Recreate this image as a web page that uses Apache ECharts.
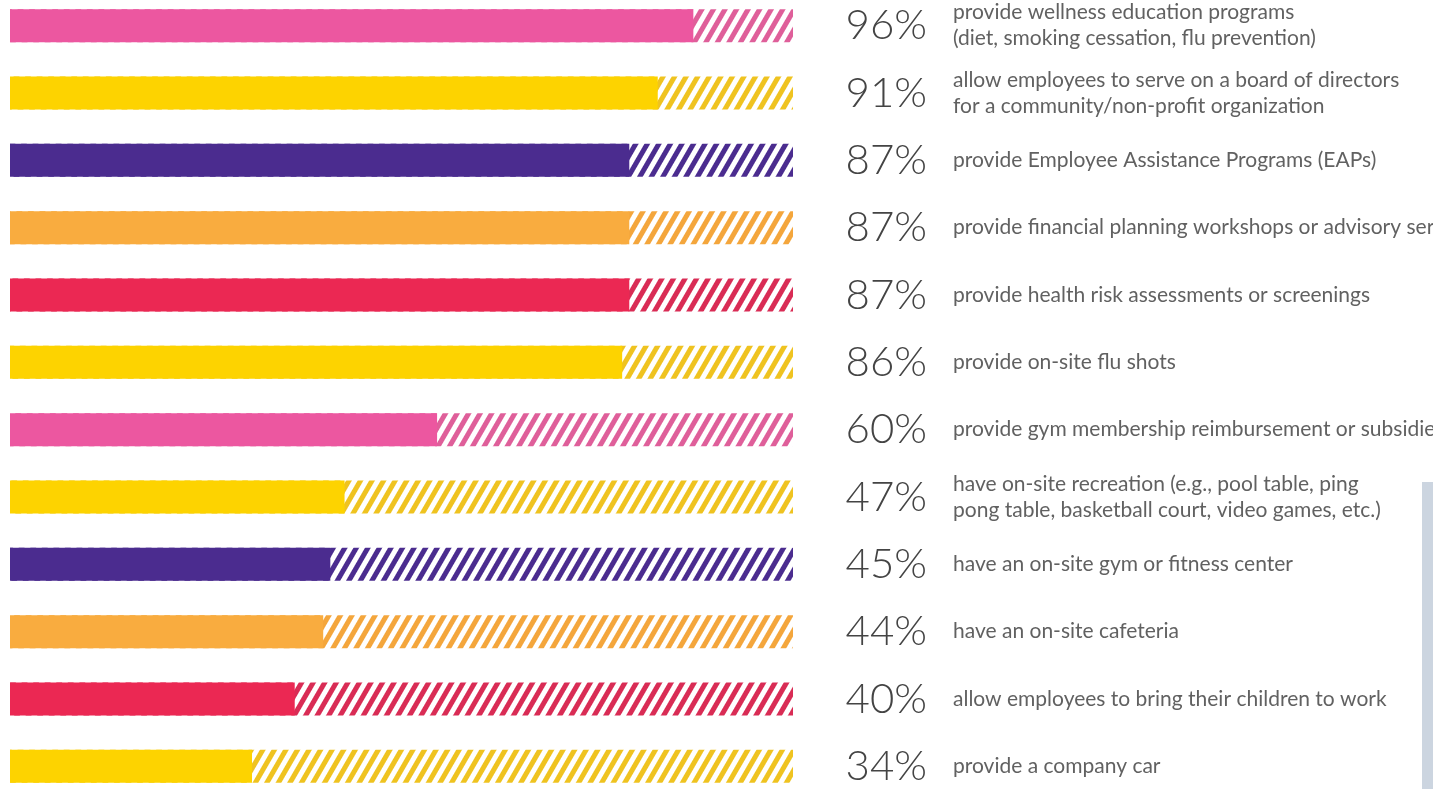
<!DOCTYPE html>
<html>
<head>
<meta charset="utf-8">
<title>Workplace benefits offered</title>
<script src="https://cdn.jsdelivr.net/npm/echarts@6/dist/echarts.min.js"></script>
<style>
  html, body { margin: 0; padding: 0; background: #ffffff; }
  #chart { width: 1433px; height: 789px; }
</style>
</head>
<body>
<div id="chart"></div>
<script>
// Share of companies offering each benefit (%)
const benefits = [
  'provide wellness education programs\n(diet, smoking cessation, flu prevention)',
  'allow employees to serve on a board of directors\nfor a community/non-profit organization',
  'provide Employee Assistance Programs (EAPs)',
  'provide financial planning workshops or advisory services',
  'provide health risk assessments or screenings',
  'provide on-site flu shots',
  'provide gym membership reimbursement or subsidies',
  'have on-site recreation (e.g., pool table, ping\npong table, basketball court, video games, etc.)',
  'have an on-site gym or fitness center',
  'have an on-site cafeteria',
  'allow employees to bring their children to work',
  'provide a company car'
];
const shares = [96, 91, 87, 87, 87, 86, 60, 47, 45, 44, 40, 34];

// Full length of the hatched track behind each bar
const trackEnd = 110;

// Row colours: solid fill and the slightly deeper hatch stroke
const fillColors  = ['#ec57a0', '#fdd300', '#4b2c8f', '#f9ac3f', '#eb2853', '#fdd300',
                     '#ec57a0', '#fdd300', '#4b2c8f', '#f9ac3f', '#eb2853', '#fdd300'];
const hatchColors = ['#df5f9a', '#efc320', '#4b2c8f', '#f4a63c', '#d92c55', '#efc320',
                     '#df5f9a', '#efc320', '#4b2c8f', '#f4a63c', '#d92c55', '#efc320'];

const chart = echarts.init(document.getElementById('chart'), null, { renderer: 'canvas' });

const trackData = benefits.map((_, i) => ({
  value: trackEnd,
  itemStyle: {
    color: '#ffffff',
    decal: {
      symbol: 'rect',
      symbolSize: 1,
      dashArrayX: [1, 0],
      dashArrayY: [5, 5],
      rotation: -Math.PI / 3,
      color: hatchColors[i]
    }
  }
}));

const solidData = shares.map((v, i) => ({
  value: v,
  itemStyle: { color: fillColors[i] }
}));

const hiddenCategoryAxis = {
  type: 'category',
  inverse: true,
  data: benefits,
  axisLine: { show: false },
  axisTick: { show: false },
  splitLine: { show: false }
};

chart.setOption({
  animation: false,
  backgroundColor: '#ffffff',
  aria: { enabled: false, decal: { show: false } },
  grid: {
    left: 10, right: 640, top: -8, height: 808,
    containLabel: false,
    outerBoundsMode: 'none'
  },
  xAxis: {
    type: 'value',
    min: 0,
    max: trackEnd,
    show: false
  },
  yAxis: [
    Object.assign({}, hiddenCategoryAxis, {
      position: 'left',
      axisLabel: { show: false }
    }),
    // percentage column, right-aligned against the descriptions
    Object.assign({}, hiddenCategoryAxis, {
      position: 'right',
      data: shares.map(v => v + '%'),
      axisLabel: {
        show: true,
        align: 'right',
        margin: 134,
        fontFamily: 'Lato',
        fontWeight: 300,
        fontSize: 42,
        color: '#444444'
      }
    }),
    // benefit descriptions
    Object.assign({}, hiddenCategoryAxis, {
      position: 'right',
      axisLabel: {
        show: true,
        align: 'left',
        margin: 160,
        fontFamily: 'Lato',
        fontWeight: 400,
        fontSize: 21,
        lineHeight: 26,
        color: '#616161'
      }
    })
  ],
  series: [
    {
      name: 'track',
      type: 'bar',
      yAxisIndex: 0,
      barWidth: 33,
      barGap: '-100%',
      silent: true,
      data: trackData,
      z: 1
    },
    {
      name: 'share',
      type: 'bar',
      yAxisIndex: 0,
      barWidth: 33,
      barGap: '-100%',
      silent: true,
      data: solidData,
      z: 2
    }
  ],
  graphic: [
    {
      type: 'rect',
      right: 0,
      top: 482,
      shape: { width: 11, height: 307 },
      style: { fill: '#ccd5e0' },
      silent: true
    }
  ]
});
</script>
</body>
</html>
